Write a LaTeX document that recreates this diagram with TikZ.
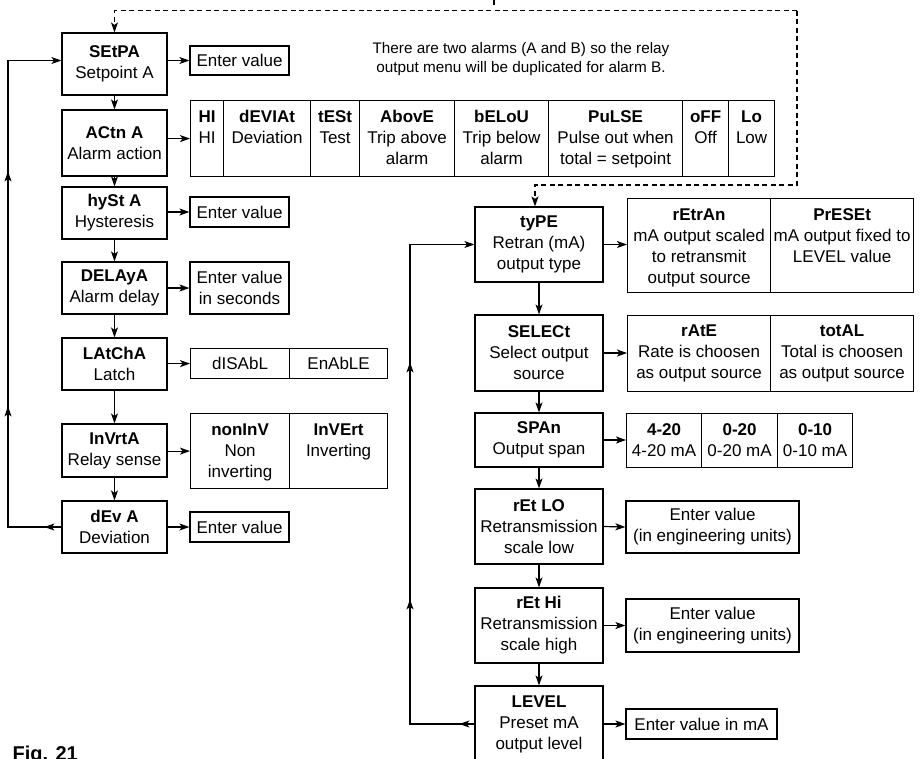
\documentclass[tikz,border=0pt]{standalone}
\usepackage{fontspec}
\setmainfont{Liberation Sans}
\usetikzlibrary{arrows.meta,decorations.markings}
\newcommand\myfs{\fontsize{17}{21}\selectfont}
\begin{document}
\begin{tikzpicture}[x=1pt,y=-1pt,
  line width=1.2pt,
  >={Stealth[length=10pt,width=7pt,inset=2.5pt]},
  bx/.style 2 args={draw, align=center, inner sep=0pt, font=\myfs, minimum width=#1, minimum height=#2},
  cellN/.style 2 args={draw, anchor=north west, inner sep=0pt, align=center, font=\myfs, minimum width=#1, minimum height=#2},
  tt/.style={anchor=north, inner sep=0pt, align=center, font=\myfs},
  dsh/.style={dash pattern=on 5pt off 3.5pt},
]
\clip (0,0) rectangle (920,758);

% ---------- left column ----------
\node[bx={105}{62}] (setpa) at (114.5,64) {\textbf{SEtPA}\\Setpoint A};
\node[bx={105}{66}] (actn) at (114.5,143) {\textbf{ACtn A}\\Alarm action};
\node[bx={105}{52}] (hyst) at (114.5,213) {\textbf{hySt A}\\Hysteresis};
\node[bx={105}{52}] (delay) at (114.5,288) {\textbf{DELAyA}\\Alarm delay};
\node[bx={105}{52}] (latch) at (114.5,364) {\textbf{LAtChA}\\Latch};
\node[bx={105}{53}] (invrt) at (114.5,450.5) {\textbf{InVrtA}\\Relay sense};
\node[bx={105}{52}] (dev) at (114.5,527) {\textbf{dEv A}\\Deviation};

\node[bx={99}{29}] (e1) at (239.5,60.5) {Enter value};
\node[bx={99}{30}] (e2) at (239.5,212) {Enter value};
\node[bx={99}{52}] (e3) at (239.5,288) {Enter value\\in seconds};
\node[bx={99}{30}] (e4) at (239.5,527) {Enter value};

% alarm action table
\node[cellN={33}{76}] (a1) at (190,100) {};
\node[cellN={87}{76}] (a2) at (223,100) {};
\node[cellN={49}{76}] (a3) at (310,100) {};
\node[cellN={95}{76}] (a4) at (359,100) {};
\node[cellN={94}{76}] (a5) at (454,100) {};
\node[cellN={134}{76}] (a6) at (548,100) {};
\node[cellN={46}{76}] (a7) at (682,100) {};
\node[cellN={46}{76}] (a8) at (728,100) {};
\node[tt] (a1t) at ([yshift=-10pt]a1.north) {\textbf{HI}\\HI};
\node[tt] (a2t) at ([yshift=-10pt]a2.north) {\textbf{dEVIAt}\\Deviation};
\node[tt] (a3t) at ([yshift=-10pt]a3.north) {\textbf{tESt}\\Test};
\node[tt] (a4t) at ([yshift=-10pt]a4.north) {\textbf{AbovE}\\Trip above\\alarm};
\node[tt] (a5t) at ([yshift=-10pt]a5.north) {\textbf{bELoU}\\Trip below\\alarm};
\node[tt] (a6t) at ([yshift=-10pt]a6.north) {\textbf{PuLSE}\\Pulse out when\\total = setpoint};
\node[tt] (a7t) at ([yshift=-10pt]a7.north) {\textbf{oFF}\\Off};
\node[tt] (a8t) at ([yshift=-10pt]a8.north) {\textbf{Lo}\\Low};

% latch table
\node[cellN={99}{30}] (dis) at (190,348) {dISAbL};
\node[cellN={98}{30}] (ena) at (289,348) {EnAbLE};

% invert table
\node[cellN={99}{75}] (noninv) at (190,413) {};
\node[cellN={98}{75}] (inv) at (289,413) {};
\node[tt] (noninvt) at ([yshift=-10pt]noninv.north) {\textbf{nonInV}\\Non\\inverting};
\node[tt] (invt) at ([yshift=-10pt]inv.north) {\textbf{InVErt}\\Inverting};

% note
\node[align=center, inner sep=0pt, font=\fontsize{15.3}{19}\selectfont] (note) at (521,59)
  {There are two alarms (A and B) so the relay\\output menu will be duplicated for alarm B.};

% ---------- right column ----------
\node[bx={128}{75}] (type) at (539,244.5) {\textbf{tyPE}\\Retran (mA)\\output type};
\node[bx={128}{76}] (select) at (539,353) {\textbf{SELECt}\\Select output\\source};
\node[bx={128}{54}] (span) at (539,440) {\textbf{SPAn}\\Output span};
\node[bx={128}{75}] (retlo) at (539,526.5) {\textbf{rEt LO}\\Retransmission\\scale low};
\node[bx={128}{75}] (rethi) at (539,625.5) {\textbf{rEt Hi}\\Retransmission\\scale high};
\node[bx={128}{76}] (level) at (539,724) {\textbf{LEVEL}\\Preset mA\\output level};

\node[cellN={143}{94}] (rt1) at (627,198) {};
\node[cellN={143}{94}] (rt2) at (770,198) {};
\node[tt] (rt1t) at ([yshift=-10pt]rt1.north) {\textbf{rEtrAn}\\mA output scaled\\to retransmit\\output source};
\node[tt] (rt2t) at ([yshift=-10pt]rt2.north) {\textbf{PrESEt}\\mA output fixed to\\LEVEL value};

\node[cellN={143}{76}] (ra1) at (627,315) {\textbf{rAtE}\\Rate is choosen\\as output source};
\node[cellN={143}{76}] (ra2) at (770,315) {\textbf{totAL}\\Total is choosen\\as output source};

\node[cellN={75}{54}] (sp1) at (626,413) {\textbf{4-20}\\4-20 mA};
\node[cellN={76}{54}] (sp2) at (701,413) {\textbf{0-20}\\0-20 mA};
\node[cellN={75}{54}] (sp3) at (777,413) {\textbf{0-10}\\0-10 mA};

\node[bx={173}{52}] (e5) at (712.5,527) {Enter value\\(in engineering units)};
\node[bx={173}{53}] (e6) at (712.5,625.5) {Enter value\\(in engineering units)};
\node[bx={151}{30}] (e7) at (701.5,724) {Enter value in mA};

\node[anchor=north west, inner sep=0pt, font=\bfseries\fontsize{20}{24}\selectfont] (fig) at (12,745) {Fig. 21};

% ---------- connectors ----------
\draw[->] (setpa.east |- e1) -- (e1.west);
\draw[->] (actn.east |- a1.west) -- (a1.west);
\draw[->] (hyst.east |- e2) -- (e2.west);
\draw[->] (delay.east |- e3) -- (e3.west);
\draw[->] (latch.east |- dis.west) -- (dis.west);
\draw[->] (invrt.east |- noninv.west) -- (noninv.west);
\draw[->] (dev.east) -- (e4.west);
\foreach \a/\b in {setpa/actn, actn/hyst, hyst/delay, delay/latch, latch/invrt, invrt/dev,
                   type/select, select/span, span/retlo, retlo/rethi, rethi/level}
  \draw[->] (\a.south) -- (\b.north);

\draw[->] (type.east) -- (type.east -| rt1.west);
\draw[->] (select.east) -- (select.east -| ra1.west);
\draw[->] (span.east) -- (span.east -| sp1.west);
\draw[->] (retlo.east) -- (e5.west);
\draw[->] (rethi.east) -- (e6.west);
\draw[->] (level.east) -- (e7.west);

% loops
\coordinate (lx) at (8,0);
\draw[->, postaction={decorate}, decoration={markings,
    mark=at position 17pt with {\arrow{>}},
    mark=at position 174pt with {\arrow{>}},
    mark=at position 409pt with {\arrow{>}}}]
  (dev.west) -- (dev.west -| lx) -- (lx |- e1) -- (setpa.west |- e1);

\coordinate (rx) at (410,0);
\draw[->, postaction={decorate}, decoration={markings,
    mark=at position 15pt with {\arrow{>}},
    mark=at position 189pt with {\arrow{>}},
    mark=at position 426pt with {\arrow{>}}}]
  (level.west) -- (level.west -| rx) -- (rx |- type.west) -- (type.west);

% dashed return path
\coordinate (dtr) at (797,10.7);
\coordinate (dbr) at (797,185);
\coordinate (tin) at ([xshift=-4pt]type.north);
\draw[dsh,->] (dtr) -- (setpa.north |- dtr) -- (setpa.north);
\draw[dsh,->] (dtr) -- (dbr) -- (dbr -| tin) -- (tin);

% stub at top
\coordinate (st1) at (494,0);
\coordinate (st2) at (494,5);
\draw (st1) -- (st2);
\end{tikzpicture}
\end{document}
